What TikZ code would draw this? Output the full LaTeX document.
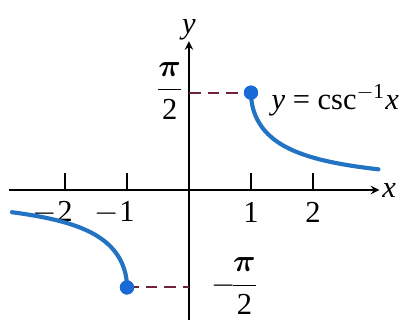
\documentclass[tikz,border=0pt]{standalone}
\usepackage{amsmath}
\usepackage{bm}
\usepackage{fontspec}
\setmainfont{Liberation Serif}
\definecolor{cscblue}{RGB}{35,115,195}
\definecolor{dotblue}{RGB}{25,105,215}
\definecolor{guidered}{RGB}{110,35,55}

\begin{document}
\begin{tikzpicture}[font=\fontsize{14}{16}\selectfont,
  axis/.style={->, >=stealth, line width=0.75pt},
  tick/.style={line width=0.75pt},
  curve/.style={line width=1.9pt, cscblue, line cap=round},
  guide/.style={guidered, line width=0.9pt, dash pattern=on 5.5pt off 3pt},
  dot/.style={circle, fill=dotblue, inner sep=0pt, minimum size=6.5pt}
]
  \useasboundingbox (-3.048,-2.097) rectangle (3.484,3.065);
  % Axes
  \coordinate (xl) at (-2.9,0);
  \coordinate (xr) at (3.07,0);
  \coordinate (yb) at (0,-2.1);
  \coordinate (yt) at (0,2.4);
  \draw[axis] (xl) -- (xr) node[right=0pt, inner sep=1pt] (xlab) {\textit{x}};
  \draw[axis] (yb) -- (yt) node[above=-1pt, inner sep=1pt] (ylab) {\textit{y}};
  % Ticks
  \foreach \x in {-2,-1,1,2}
    \draw[tick] (\x,0) -- (\x,0.27);
  \foreach \x in {1,2}
    \node (t\x) at (\x,-0.36) {\x};
  \foreach \x in {1,2}
    \node (m\x) at (-\x,-0.36) {\llap{$-$}\x};
  % Guides
  \coordinate (pt) at (0,{pi/2});
  \coordinate (pb) at (0,{-pi/2});
  \node[dot] (dtop) at (1,{pi/2}) {};
  \node[dot] (dbot) at (-1,{-pi/2}) {};
  \draw[guide] (pt) -- (dtop.center);
  \draw[guide] (dbot.center) -- (pb);
  % Branches
  \draw[curve] plot[domain=90:19.1, samples=60] ({1/sin(\x)}, {\x*pi/180});
  \draw[curve] plot[domain=-90:-20.5, samples=60] ({1/sin(\x)}, {\x*pi/180});
  \node[dot] at (dtop) {};
  \node[dot] at (dbot) {};
  % Labels
  \node (lpi) at (-0.31,{pi/2+0.03}) {$\dfrac{\bm{\pi}}{\text{2}}$};
  \node[anchor=west, inner sep=1pt] (lmpi) at (0.32,{-pi/2+0.02}) {$-\!\dfrac{\bm{\pi}}{\text{2}}$};
  \node[anchor=west, inner sep=1pt] (lfun) at (1.29,1.45) {\textit{y} = csc\textsuperscript{$-$1}\textit{x}};
\end{tikzpicture}
\end{document}
